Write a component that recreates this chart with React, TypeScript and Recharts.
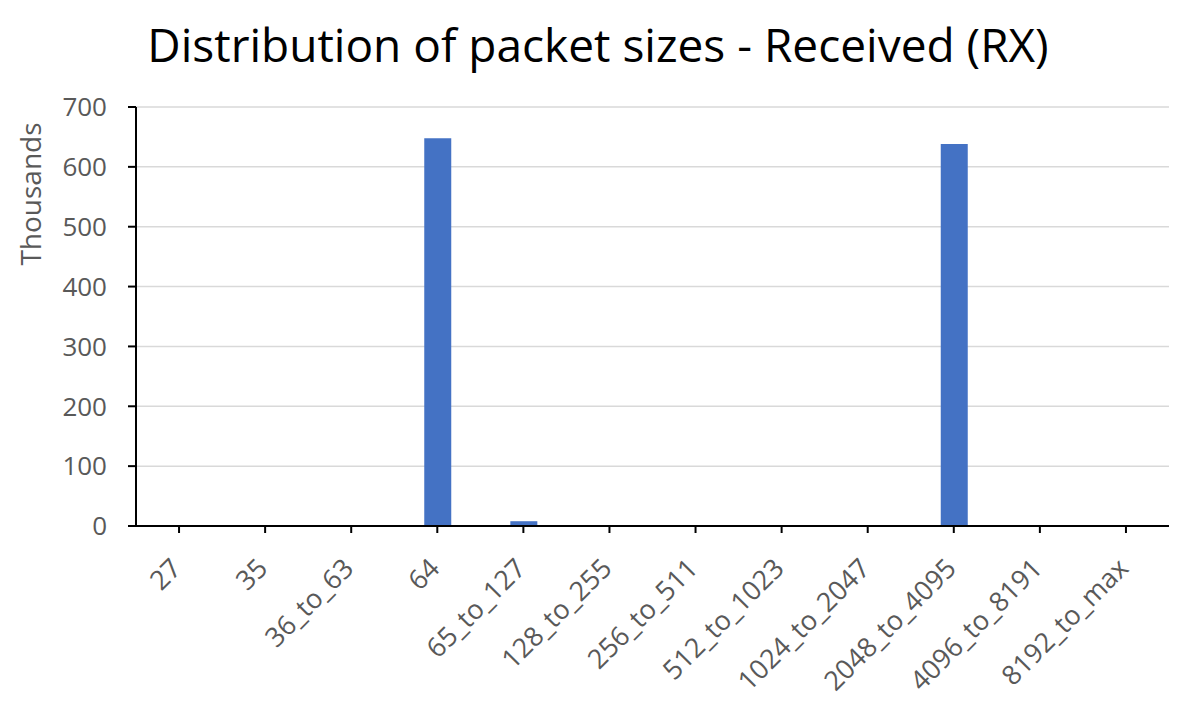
import { BarChart, Bar, XAxis, YAxis, CartesianGrid } from "recharts";

// packet size buckets (RX), counts in thousands
const categories = [
  "27",
  "35",
  "36_to_63",
  "64",
  "65_to_127",
  "128_to_255",
  "256_to_511",
  "512_to_1023",
  "1024_to_2047",
  "2048_to_4095",
  "4096_to_8191",
  "8192_to_max",
];
const received = [0, 0, 0, 648, 8, 0, 0, 0, 0, 638, 0, 0];
const yTicks = [0, 100, 200, 300, 400, 500, 600, 700];

const data = categories.map((name, i) => ({ name, value: received[i] }));

const FONT = "'Open Sans', 'Noto Sans', sans-serif";
const GREY = "#595959";

function XTick(props: any) {
  const { x, y, payload } = props;
  // rotated label, its end sits just below the tick
  const tx = x + 4;
  const ty = y + 35;
  return (
    <text
      x={tx}
      y={ty}
      textAnchor="end"
      transform={`rotate(-45 ${tx} ${ty})`}
      fontSize={27}
      fill={GREY}
      fontFamily={FONT}
    >
      {payload.value}
    </text>
  );
}

export default function App() {
  return (
    <div style={{ position: "absolute", left: 0, top: 0, width: 1196, height: 715, background: "#fff" }}>
      <div
        style={{
          position: "absolute",
          top: 13,
          left: 0,
          width: 1196,
          textAlign: "center",
          fontFamily: FONT,
          fontSize: 46,
          lineHeight: "normal",
          color: "#000",
        }}
      >
        Distribution of packet sizes - Received (RX)
      </div>
      <BarChart
        width={1196}
        height={715}
        data={data}
        margin={{ top: 107, right: 27, bottom: 9, left: 56 }}
      >
        <CartesianGrid vertical={false} stroke="#d9d9d9" strokeWidth={1.5} />
        <XAxis
          dataKey="name"
          interval={0}
          height={180}
          tickSize={7}
          tickLine={{ stroke: "#000", strokeWidth: 2 }}
          axisLine={{ stroke: "#000", strokeWidth: 2 }}
          tick={<XTick />}
        />
        <YAxis
          width={80}
          domain={[0, 700]}
          ticks={yTicks}
          interval={0}
          tickSize={8}
          tickMargin={21}
          tickLine={{ stroke: "#000", strokeWidth: 2 }}
          axisLine={{ stroke: "#000", strokeWidth: 2 }}
          tick={{ fontSize: 26, fill: GREY, fontFamily: FONT }}
          label={{
            content: () => (
              <text
                x={30}
                y={194}
                transform="rotate(-90 30 194)"
                textAnchor="middle"
                dominantBaseline="central"
                fontSize={28}
                fill={GREY}
                fontFamily={FONT}
              >
                Thousands
              </text>
            ),
          }}
        />
        <Bar dataKey="value" fill="#4472c4" barSize={27} isAnimationActive={false} />
      </BarChart>
    </div>
  );
}
